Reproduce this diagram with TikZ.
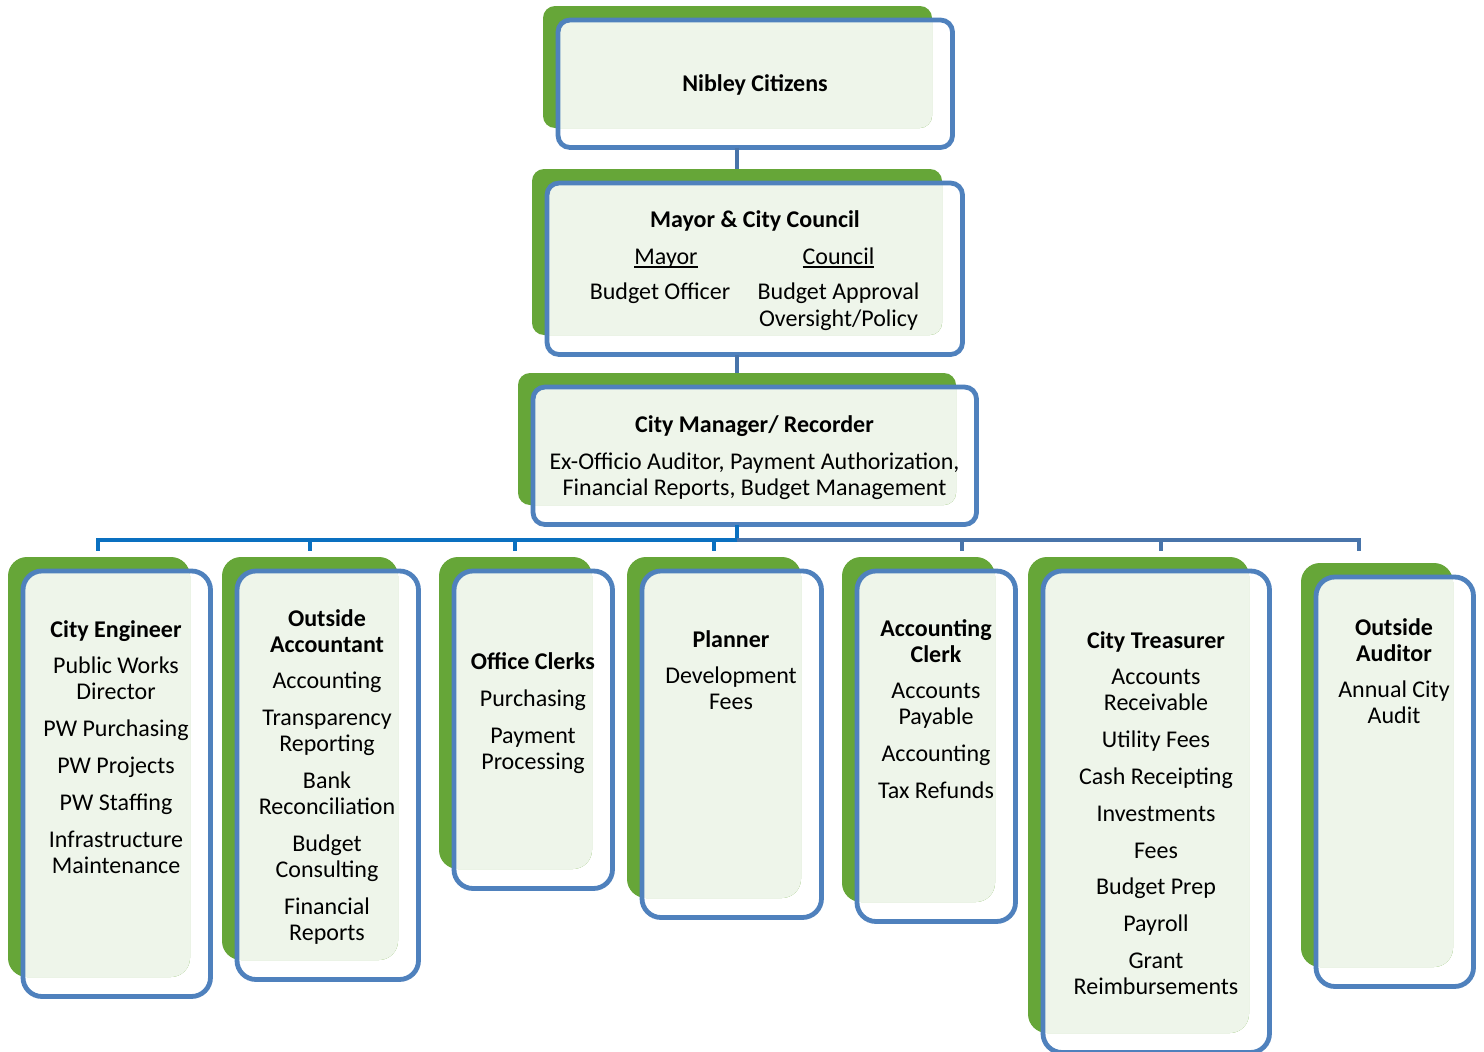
\documentclass[tikz,border=0pt]{standalone}
\usepackage{fontspec}
\setmainfont{Carlito}
\definecolor{boxgreen}{HTML}{66A638}
\definecolor{boxpale}{HTML}{EEF5EA}
\definecolor{boxblue}{HTML}{4F81BD}
\definecolor{connL}{HTML}{0A70C0}
\definecolor{connR}{HTML}{4874AA}
\tikzset{
  greenshape/.style={fill=boxgreen, draw=none, inner sep=0pt, outer sep=0pt},
  bluebox/.style={draw=boxblue, line width=4.8pt, inner sep=0pt, outer sep=0pt},
  txt/.style={align=center, inner sep=0pt, outer sep=0pt, anchor=north, font=\fontsize{24}{26}\selectfont},
  leftline/.style={draw=connL, line width=4pt},
  rightline/.style={draw=connR, line width=4pt},
}
% #1 name, #2 x0, #3 y0, #4 x1, #5 y1 (green shape), #6 corner radius
\newcommand\orgbox[6]{%
  \node[greenshape, rounded corners=#6pt, minimum width={#4-#2}, minimum height={#5-#3}]
     (#1g) at ({(#2+#4)/2},{(#3+#5)/2}) {};
  \begin{scope}
    \clip[rounded corners=#6pt] ({#2+15},{#3+14}) rectangle ({#4+20.5},{#5+19.5});
    \fill[boxpale, rounded corners=#6pt] (#2,#3) rectangle (#4,#5);
  \end{scope}
  \node[bluebox, rounded corners=#6pt, minimum width={#4+20.5-#2-15}, minimum height={#5+19.5-#3-14}]
     (#1) at ({(#2+#4+35.5)/2},{(#3+#5+33.5)/2}) {};
}
\newcommand\ulx[1]{{\setbox0=\hbox{#1}\rlap{\rule[-3.6pt]{\wd0}{1.3pt}}\box0}}
\begin{document}
\begin{tikzpicture}[x=1pt,y=-1pt]
\clip (0,0) rectangle (1484,1052);
\fill[white] (0,0) rectangle (1484,1052);

% hub and drop points
\coordinate (hub) at (737,540);
\coordinate (d1) at (98,551);
\coordinate (d2) at (310,551);
\coordinate (d3) at (515,551);
\coordinate (d4) at (714,551);
\coordinate (d5) at (962,551);
\coordinate (d6) at (1161,551);
\coordinate (d7) at (1359,551);

% boxes
\orgbox{nib}{543}{6}{932}{128}{12}
\orgbox{mayor}{532}{169}{942}{335}{12}
\orgbox{mgr}{518}{373}{956}{505}{12}
\orgbox{ce}{8}{557}{190}{977}{19}
\orgbox{oa}{222}{557}{398}{960}{19}
\orgbox{oc}{439}{557}{592}{869}{19}
\orgbox{pl}{627}{557}{801}{898}{19}
\orgbox{ac}{842}{557}{995}{902}{19}
\orgbox{ct}{1028}{557}{1249}{1033}{19}
\orgbox{oau}{1301}{563}{1453}{967}{19}

% connectors
\draw[rightline] (nib.south -| hub) -- (mayorg.north -| hub);
\draw[rightline] (mayor.south -| hub) -- (mgrg.north -| hub);
\draw[leftline] (mgr.south -| hub) -- (hub);
\draw[rightline] (hub) -| (d5);
\draw[rightline] (hub) -| (d6);
\draw[rightline] (hub) -| (d7);
\draw[leftline] (hub) -| (d4);
\draw[leftline] (hub) -| (d3);
\draw[leftline] (hub) -| (d2);
\draw[leftline] (hub) -| (d1);

% texts (north = first baseline - 18.2)
\node[txt] (nibt) at (755,72.8) {\strut\textbf{Nibley Citizens}};

\node[txt] (mayort) at (755,208.8) {\strut\textbf{Mayor \& City Council}};
\node[txt] (mayorh) at (666,245.8) {\strut\ulx{Mayor}};
\node[txt] (mayorb) at (660,280.8) {\strut Budget Officer};
\node[txt] (councilt) at (838.5,245.8) {\strut\ulx{Council}\\[9pt]Budget Approval\\[1pt]Oversight/Policy};

\node[txt] (mgrt) at (754.5,413.8) {\strut\textbf{City Manager/ Recorder}\\[11pt]Ex-Officio Auditor, Payment Authorization,\\Financial Reports, Budget Management};

\node[txt] (cet) at (116,618.8) {\strut\textbf{City Engineer}\\[10.8pt]Public Works\\Director\\[10.8pt]PW Purchasing\\[10.8pt]PW Projects\\[10.8pt]PW Staffing\\[10.8pt]Infrastructure\\Maintenance};

\node[txt] (oat) at (327,607.8) {\strut\textbf{Outside}\\\textbf{Accountant}\\[10.8pt]Accounting\\[10.8pt]Transparency\\Reporting\\[10.8pt]Bank\\Reconciliation\\[10.8pt]Budget\\Consulting\\[10.8pt]Financial\\Reports};

\node[txt] (oct) at (533,651.3) {\strut\textbf{Office Clerks}\\[10.8pt]Purchasing\\[10.8pt]Payment\\Processing};

\node[txt] (plt) at (731,628.8) {\strut\textbf{Planner}\\[10.8pt]Development\\Fees};

\node[txt] (act) at (936,617.8) {\strut\textbf{Accounting}\\\textbf{Clerk}\\[10.8pt]Accounts\\Payable\\[10.8pt]Accounting\\[10.8pt]Tax Refunds};

\node[txt] (ctt) at (1156,629.8) {\strut\textbf{City Treasurer}\\[10.8pt]Accounts\\Receivable\\[10.8pt]Utility Fees\\[10.8pt]Cash Receipting\\[10.8pt]Investments\\[10.8pt]Fees\\[10.8pt]Budget Prep\\[10.8pt]Payroll\\[10.8pt]Grant\\Reimbursements};

\node[txt] (oaut) at (1394,616.8) {\strut\textbf{Outside}\\\textbf{Auditor}\\[10.8pt]Annual City\\Audit};
\end{tikzpicture}
\end{document}
